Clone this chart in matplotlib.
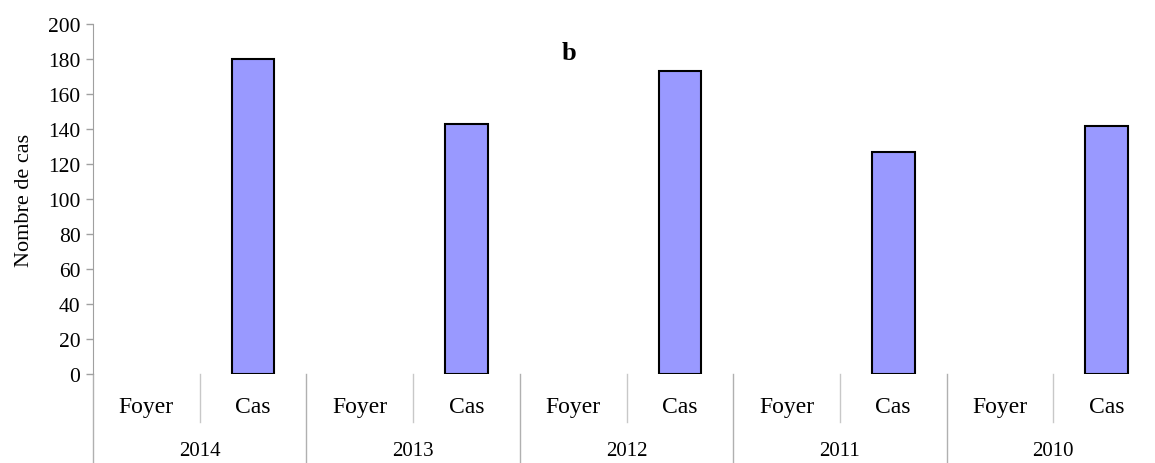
import matplotlib
matplotlib.use("Agg")
import matplotlib.pyplot as plt
import matplotlib.transforms as mtransforms
import numpy as np

# Data
years = ["2014", "2013", "2012", "2011", "2010"]
sub_labels = ["Foyer", "Cas"]
foyer = [0, 0, 0, 0, 0]
cas = [180, 143, 173, 127, 142]

plt.rcParams["font.family"] = ["Liberation Serif", "DejaVu Serif"]

W, H = 1155, 464
fig = plt.figure(figsize=(W / 100, H / 100), dpi=100)
x0, x1, y0, y1 = 93, 1160, 375, 25
ax = fig.add_axes([x0 / W, (H - y0) / H, (x1 - x0) / W, (y0 - y1) / H])

values = []
for f, c in zip(foyer, cas):
    values += [f, c]
pos = np.arange(len(values)) + 0.5
for p, v in zip(pos, values):
    if v > 0:
        ax.bar(p, v, width=0.4, color="#9999FF", edgecolor="black", linewidth=1.5, zorder=3)

ax.set_xlim(0, len(values))
ax.set_ylim(0, 200)
ax.set_yticks(np.arange(0, 201, 20))
ax.tick_params(axis="y", labelsize=15.5, length=5, color="#A0A0A0", width=1, pad=4)
ax.set_xticks([])
for s in ["top", "right", "bottom"]:
    ax.spines[s].set_visible(False)
ax.spines["left"].set_color("#A0A0A0")
ax.set_ylabel("Nombre de cas", fontsize=16, labelpad=10)
ax.text(0.446, 0.92, "b", transform=ax.transAxes, fontsize=19, fontweight="bold",
        ha="center", va="center")

# category axis below
trans = mtransforms.blended_transform_factory(ax.transData, ax.transAxes)
px = 1 / (y0 - y1)
for i in range(len(years) + 1):
    ax.plot([2 * i, 2 * i], [0, -100 * px], color="#B0B0B0", lw=1, transform=trans, clip_on=False)
for i in range(len(years)):
    ax.plot([2 * i + 1, 2 * i + 1], [0, -48 * px], color="#C8C8C8", lw=1, transform=trans, clip_on=False)
    ax.text(2 * i + 1, -77 * px, years[i], transform=trans, ha="center", va="center", fontsize=15)
for p, lab in zip(pos, sub_labels * len(years)):
    ax.text(p, -33 * px, lab, transform=trans, ha="center", va="center", fontsize=17)

fig.savefig("out.png", dpi=100)
